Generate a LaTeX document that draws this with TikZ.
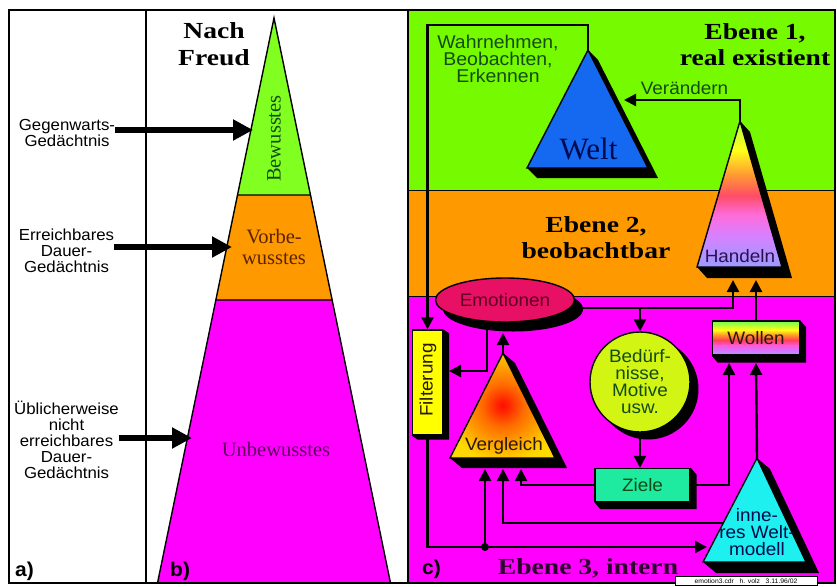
\documentclass[tikz,border=0pt]{standalone}
\usepackage{fontspec}
\setmainfont{Liberation Serif}
\newfontfamily\titlefont{Liberation Serif}[FakeStretch=1.2]
\newfontfamily\labfont{Liberation Sans}[FakeStretch=1.05]
\usetikzlibrary{arrows.meta,calc,shapes.geometric}
\pgfdeclarelayer{bg}
\pgfdeclarelayer{shad}
\pgfsetlayers{bg,shad,main}

\definecolor{pgreen}{RGB}{118,250,0}
\definecolor{porange}{RGB}{255,153,0}
\definecolor{pmag}{RGB}{255,0,255}
\definecolor{tgreen}{RGB}{128,255,32}
\definecolor{weltblue}{RGB}{20,105,240}
\definecolor{emored}{RGB}{232,16,100}
\definecolor{filtyel}{RGB}{255,255,0}
\definecolor{bedgreen}{RGB}{210,245,20}
\definecolor{zielgreen}{RGB}{30,235,160}
\definecolor{iwmcyan}{RGB}{30,240,240}
\definecolor{dgreen}{RGB}{20,75,20}
\definecolor{dbrown}{RGB}{90,35,0}
\definecolor{dpurple}{RGB}{95,0,95}
\definecolor{dnavy}{RGB}{0,10,80}
\definecolor{dmaroon}{RGB}{95,0,35}
\definecolor{dviolet}{RGB}{45,15,80}
\definecolor{dtext}{RGB}{40,25,10}

\pgfdeclareverticalshading{handshade}{100bp}{rgb(0bp)=(0.62,0.6,1); rgb(25bp)=(0.62,0.6,1); rgb(29bp)=(0.68,0.58,1); rgb(36bp)=(0.85,0.5,1); rgb(43bp)=(1,0.42,0.85); rgb(49.5bp)=(1,0.3,0.4); rgb(56.5bp)=(1,0.6,0.2); rgb(65bp)=(1,1,0.1); rgb(75bp)=(0.7,1,0.25); rgb(100bp)=(0.7,1,0.25)}
\pgfdeclareverticalshading{wollshade}{100bp}{rgb(0bp)=(0.7,0.6,1); rgb(25bp)=(0.7,0.6,1); rgb(32.5bp)=(0.85,0.45,1); rgb(39.5bp)=(1,0.35,0.85); rgb(47bp)=(1,0.25,0.35); rgb(54.5bp)=(1,0.6,0.15); rgb(62bp)=(1,1,0.1); rgb(75bp)=(0.45,1,0.3); rgb(100bp)=(0.45,1,0.3)}
\pgfdeclareradialshading{vglshade}{\pgfpoint{0bp}{0bp}}{rgb(0bp)=(1,0.05,0); rgb(3bp)=(1,0.15,0); rgb(10bp)=(1,0.42,0); rgb(18bp)=(1,0.62,0); rgb(27bp)=(1,0.85,0); rgb(50bp)=(1,0.9,0)}

\newcommand\trishad[3]{\fill[black] (#1-a) -- ($(#1-a)+(#2,#3)$) -- ($(#1-r)+(#2,#3)$) -- ($(#1-l)+(#2,#3)$) -- (#1-l) -- cycle;}
\newcommand\boxshad[3]{\fill[black] (#1.north east) -- ($(#1.north east)+(#2,#3)$) -- ($(#1.south east)+(#2,#3)$) -- ($(#1.south west)+(#2,#3)$) -- (#1.south west) -- cycle;}

\tikzset{
  outl/.style={draw=black, line width=1.4pt},
  conn/.style={line width=2.4pt, black},
  arr/.style={conn, -{Triangle[length=12pt,width=12pt]}},
  bigarr/.style={line width=6.5pt, -{Triangle[length=20pt,width=20pt]}},
  leftlab/.style={font=\labfont\fontsize{16}{16}\selectfont, inner sep=0pt, align=center},
  sanslab/.style={font=\labfont\fontsize{18}{17}\selectfont, inner sep=0pt, align=center},
  seriflab/.style={font=\fontsize{20.5}{21}\selectfont, inner sep=0pt, align=center},
  titlelab/.style={font=\titlefont\bfseries\fontsize{23}{26}\selectfont, inner sep=0pt, align=center},
  panellab/.style={font=\labfont\bfseries\fontsize{20}{20}\selectfont, inner sep=0pt, anchor=base west},
  boxd/.style={outl, inner sep=0pt, font=\labfont\fontsize{18}{17}\selectfont, align=center}
}

\begin{document}
\begin{tikzpicture}[x=1pt,y=-1pt]
\useasboundingbox (0,0) rectangle (837,586);
\begin{pgfonlayer}{bg}
  \fill[white] (0,0) rectangle (837,586);
  \fill[pgreen] (408,10) rectangle (835,190);
  \fill[porange] (408,190) rectangle (835,296);
  \fill[pmag] (408,296) rectangle (835,583);
  \draw[line width=1pt] (408,190) -- (835,190) (408,296) -- (835,296);
\end{pgfonlayer}

% ---------- panel a ----------
\node[leftlab] (gegen) at (67,133) {Gegenwarts-\\Gedächtnis};
\node[leftlab] (erreich) at (66.5,251) {Erreichbares\\Dauer-\\Gedächtnis};
\node[leftlab] (ueblich) at (66.5,440) {Üblicherweise\\nicht\\erreichbares\\Dauer-\\Gedächtnis};

% ---------- panel b ----------
\coordinate (ft-a) at (274,18);
\coordinate (ft-l) at (157.5,583);
\coordinate (ft-r) at (390.5,583);
\coordinate (ft-1l) at ($(ft-a)!0.3133!(ft-l)$);
\coordinate (ft-1r) at ($(ft-a)!0.3133!(ft-r)$);
\coordinate (ft-2l) at ($(ft-a)!0.4991!(ft-l)$);
\coordinate (ft-2r) at ($(ft-a)!0.4991!(ft-r)$);
\fill[tgreen] (ft-a) -- (ft-1r) -- (ft-1l) -- cycle;
\fill[porange] (ft-1l) -- (ft-1r) -- (ft-2r) -- (ft-2l) -- cycle;
\fill[pmag] (ft-2l) -- (ft-2r) -- (ft-r) -- (ft-l) -- cycle;
\draw[outl] (ft-a) -- (ft-r) -- (ft-l) -- cycle (ft-1l) -- (ft-1r) (ft-2l) -- (ft-2r);

\node[titlelab, font=\titlefont\bfseries\fontsize{23}{27}\selectfont] (freud) at (214,44) {Nach\\Freud};
\node[seriflab, rotate=90, text=dgreen] (bewlab) at (274,138.5) {Bewusstes};
\node[seriflab, text=dbrown] (vorlab) at (274,246.5) {Vorbe-\\wusstes};
\node[seriflab, text=dpurple] (unblab) at (276,449) {Unbewusstes};

\coordinate (bewin) at (253,130);
\coordinate (vorin) at (232,247);
\coordinate (unbin) at (192,438);
\draw[bigarr] (gegen.east |- bewin) -- (bewin);
\draw[bigarr] (erreich.east |- vorin) -- (vorin);
\draw[bigarr] (ueblich.east |- unbin) -- (unbin);

% ---------- panel c : shapes ----------
\coordinate (welt-a) at (588,50);
\coordinate (welt-l) at (527,168);
\coordinate (welt-r) at (648,168);
\coordinate (hand-a) at (740,121);
\coordinate (hand-l) at (697,267);
\coordinate (hand-r) at (782,267);
\coordinate (vgl-a) at (503,353);
\coordinate (vgl-l) at (450,458);
\coordinate (vgl-r) at (555,458);
\coordinate (iwm-a) at (757,458);
\coordinate (iwm-l) at (703,562);
\coordinate (iwm-r) at (806,562);

\filldraw[outl, fill=weltblue] (welt-a) -- (welt-r) -- (welt-l) -- cycle;
\shadedraw[outl, shading=handshade] (hand-a) -- (hand-r) -- (hand-l) -- cycle;
\shadedraw[outl, shading=vglshade] (vgl-a) -- (vgl-r) -- (vgl-l) -- cycle;
\filldraw[outl, fill=iwmcyan] (iwm-a) -- (iwm-r) -- (iwm-l) -- cycle;

\node[font=\fontsize{31}{31}\selectfont, text=dnavy, inner sep=0pt, anchor=base] (weltlab) at (588.5,159) {Welt};
\node[sanslab, text=dviolet, anchor=base] (handlab) at (740,262) {Handeln};
\node[sanslab, text=dtext, anchor=base] (vgllab) at (504,450) {Vergleich};
\node[sanslab, text=dnavy] (iwmlab) at (757,532) {inne-\\res Welt-\\modell};

\node[boxd, fill=filtyel, minimum width=30pt, minimum height=105pt] (filt) at (427.5,382.5) {};
\node[sanslab, rotate=90, text=dtext] (filtlab) at (428,380) {Filterung};
\node[boxd, ellipse, fill=emored, text=dmaroon, minimum width=139pt, minimum height=44pt] (emo) at (505,300) {Emotionen};
\node[boxd, circle, fill=bedgreen, text=dgreen, minimum size=100pt] (bed) at (640,382) {Bedürf-\\nisse,\\Motive\\usw.};
\node[boxd, shading=wollshade, text=dtext, minimum width=87pt, minimum height=34pt] (woll) at (756,338) {Wollen};
\node[boxd, fill=zielgreen, text=dgreen, minimum width=95pt, minimum height=33pt] (ziel) at (642.5,485) {Ziele};

\begin{pgfonlayer}{shad}
  \trishad{welt}{10}{10}
  \trishad{hand}{10}{11}
  \trishad{vgl}{12}{10}
  \trishad{iwm}{13}{11}
  \boxshad{filt}{6}{4}
  \boxshad{woll}{6}{7}
  \boxshad{ziel}{6}{7}
  \fill[black] ($(emo.center)+(8,9)$) ellipse [x radius=70pt, y radius=22.5pt];
  \fill[black] ($(bed.center)+(8,7)$) circle [radius=50.5pt];
\end{pgfonlayer}

% ---------- panel c : texts ----------
\node[titlelab] (eb1) at (755,45) {Ebene 1,\\real existient};
\node[titlelab] (eb2) at (596,238) {Ebene 2,\\beobachtbar};
\node[titlelab, text={rgb,255:red,45;green,0;blue,45}, anchor=base] (eb3) at (588,574) {Ebene 3, intern};
\node[sanslab, font=\labfont\fontsize{18.5}{17}\selectfont, text=dgreen] (wahr) at (498,58.5) {Wahrnehmen,\\Beobachten,\\Erkennen};
\node[sanslab, text=dgreen, anchor=base] (veraend) at (684.5,94) {Verändern};

% ---------- panel c : connectors ----------
\coordinate (fbc) at (427.5,25);
\draw[arr] (welt-a) |- (fbc) -- (filt.north);
\coordinate (weltin) at (624,100);
\draw[arr] (hand-a) |- (weltin);
\coordinate (filtin) at (449,371);
\draw[arr] ($(emo.south)+(-18,0)$) |- (filtin);
\coordinate (emoin) at (503,333);
\draw[arr] (vgl-a) -- (emoin);
\coordinate (emoj) at ($(emo.east)+(0,8)$);
\coordinate (handin1) at (733,280);
\coordinate (handin2) at (756,280);
\draw[arr] (emoj) -| (handin1);
\draw[arr] (emoj -| bed.north) -- (bed.north);
\draw[arr] (woll.north) -- (handin2);
\draw[arr] (bed.south) -- (bed.south |- ziel.north);
\coordinate (vglin1) at (485,469);
\coordinate (vglin2) at (503,469);
\coordinate (vglin3) at (521,469);
\draw[arr] (ziel.west) -| (vglin3);
\coordinate (wollin1) at (729,363);
\coordinate (wollin2) at (756,363);
\draw[arr] (ziel.east) -| (wollin1);
\draw[arr] (iwm-a) -- (wollin2);
\coordinate (iwmout) at ($(iwm-a)!0.625!(iwm-l)$);
\draw[arr] (iwmout) -| (vglin2);
\coordinate (iwmin) at (707,547);
\draw[arr] (filt.south) |- (iwmin);
\coordinate (jdot) at (485,547);
\fill (jdot) circle [radius=4pt];
\draw[arr] (jdot) -- (vglin1);

% ---------- frame ----------
\draw[line width=1.5pt] (9,10) rectangle (835,583);
\draw[line width=1.5pt] (146,10) -- (146,583) (408,10) -- (408,583);

\node[panellab] (la) at (15,576) {a)};
\node[panellab] (lb) at (170,576) {b)};
\node[panellab] (lc) at (422,574) {c)};

\node[draw=black, line width=0.6pt, fill=white, inner sep=0pt, minimum width=142pt, minimum height=9pt, font=\labfont\fontsize{6.5}{7}\selectfont] (tag) at (746,581) {emotion3.cdr\ \ \ h. volz\ \ \ 3.11.96/02};
\end{tikzpicture}
\end{document}
